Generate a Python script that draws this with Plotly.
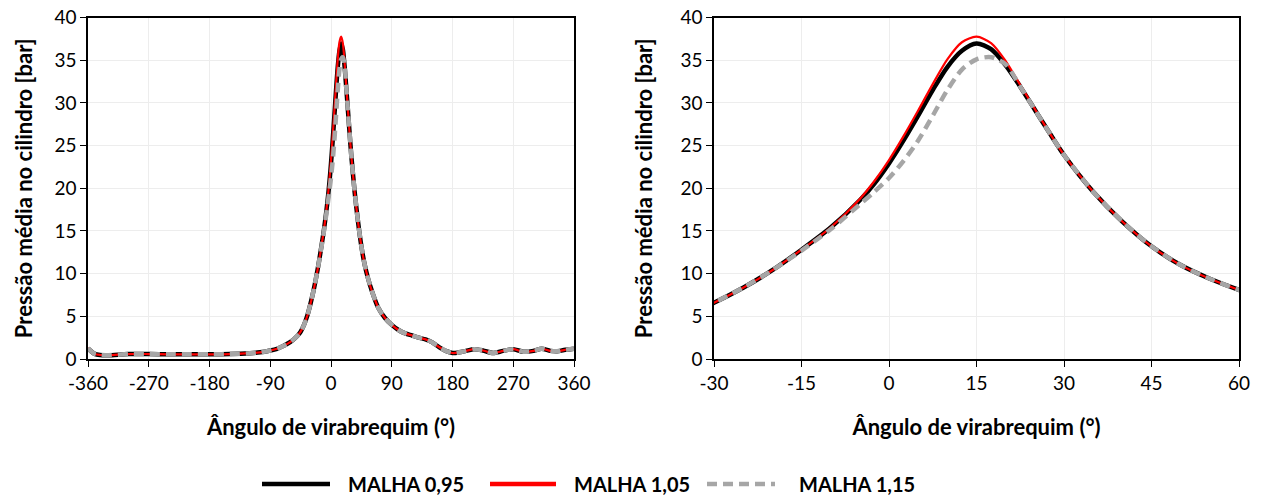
import plotly.graph_objects as go

# ---------------- data ----------------
angle = [-360, -350, -342, -330, -300, -270, -240, -210, -180, -150, -120, -105,
         -90, -80, -70, -60, -50, -45, -40, -35,
         -30, -25, -20, -15, -10, -5, -2.5, 0, 2.5, 5, 7.5, 10, 12.5, 15, 17.5,
         20, 22.5, 25, 27.5, 30, 35, 40, 45, 50, 55, 60,
         70, 80, 90, 100, 110, 120, 130, 140, 150, 160, 170,
         180, 190, 200, 212, 225, 240, 255, 270, 285, 300, 312, 325, 335, 345, 360]

malha_095 = [1.25, 0.6, 0.47, 0.45, 0.58, 0.58, 0.55, 0.55, 0.55, 0.58, 0.68, 0.78,
             1.0, 1.2, 1.55, 2.0, 2.7, 3.2, 4.0, 5.1,
             6.6, 8.35, 10.4, 12.8, 15.4, 18.6, 20.55, 22.9, 25.6, 28.5, 31.5, 34.2, 36.1, 36.95, 36.3,
             34.4, 31.9, 29.2, 26.5, 23.9, 19.6, 16.1, 13.2, 11.0, 9.4, 8.1,
             6.0, 4.8, 4.0, 3.4, 3.0, 2.75, 2.5, 2.3, 1.95, 1.4, 0.95,
             0.7, 0.78, 0.95, 1.15, 1.0, 0.7, 0.95, 1.15, 0.85, 0.95, 1.2, 0.95, 0.9, 1.05, 1.2]

malha_105 = [1.25, 0.6, 0.47, 0.45, 0.58, 0.58, 0.55, 0.55, 0.55, 0.58, 0.68, 0.78,
             1.0, 1.2, 1.55, 2.0, 2.7, 3.2, 4.0, 5.1,
             6.6, 8.35, 10.4, 12.8, 15.4, 18.75, 20.85, 23.3, 26.1, 29.1, 32.2, 35.1, 37.1, 37.75, 37.0,
             34.9, 32.1, 29.3, 26.5, 23.9, 19.6, 16.1, 13.2, 11.0, 9.4, 8.1,
             6.0, 4.8, 4.0, 3.4, 3.0, 2.75, 2.5, 2.3, 1.95, 1.4, 0.95,
             0.7, 0.78, 0.95, 1.15, 1.0, 0.7, 0.95, 1.15, 0.85, 0.95, 1.2, 0.95, 0.9, 1.05, 1.2]

malha_115 = [1.25, 0.6, 0.47, 0.45, 0.58, 0.58, 0.55, 0.55, 0.55, 0.58, 0.68, 0.78,
             1.0, 1.2, 1.55, 2.0, 2.7, 3.2, 4.0, 5.1,
             6.6, 8.35, 10.4, 12.7, 15.2, 18.1, 19.6, 21.2, 23.2, 25.6, 28.5, 31.5, 33.9, 35.1, 35.35,
             34.5, 31.9, 29.2, 26.5, 23.9, 19.6, 16.1, 13.2, 11.0, 9.4, 8.1,
             6.0, 4.8, 4.0, 3.4, 3.0, 2.75, 2.5, 2.3, 1.95, 1.4, 0.95,
             0.7, 0.78, 0.95, 1.15, 1.0, 0.7, 0.95, 1.15, 0.85, 0.95, 1.2, 0.95, 0.9, 1.05, 1.2]

series_names = ["MALHA 0,95", "MALHA 1,05", "MALHA 1,15"]
left_ticks = [-360, -270, -180, -90, 0, 90, 180, 270, 360]
left_ticktext = ["-360", "-270", "-180", "-90", "0", "90", "180", "270", "360"]
right_ticks = [-30, -15, 0, 15, 30, 45, 60]
right_ticktext = ["-30", "-15", "0", "15", "30", "45", "60"]
y_ticks = [0, 5, 10, 15, 20, 25, 30, 35, 40]

x_title = "Ângulo de virabrequim (°)"
y_title = "Pressão média no cilindro [bar]"

# ---------------- styles ----------------
FONT = "Lato"
W, H = 1270, 498
styles = [
    dict(color="#000000", width=4.5, dash="solid"),
    dict(color="#FF0000", width=2.2, dash="solid"),
    dict(color="#A6A6A6", width=4.5, dash="10px,6px"),
]
data = [malha_095, malha_105, malha_115]

fig = go.Figure()
for axes in [("x", "y"), ("x2", "y2")]:
    for name, vals, st in zip(series_names, data, styles):
        fig.add_trace(go.Scatter(
            x=angle, y=vals, name=name, mode="lines",
            line=dict(color=st["color"], width=st["width"], dash=st["dash"], shape="spline", smoothing=0.8),
            xaxis=axes[0], yaxis=axes[1], showlegend=False,
        ))

axis_common = dict(
    showline=True, linecolor="black", linewidth=1.5, mirror=True,
    showgrid=True, gridcolor="#EDEDED", gridwidth=1,
    ticks="outside", ticklen=6, tickcolor="black", tickwidth=1.2,
    tickfont=dict(family=FONT, size=19, color="#000000"),
    zeroline=False, automargin=False,
)
title_font = dict(family=FONT, size=22, color="black", weight="bold")
ydom = [(H - 359) / H, (H - 17.5) / H]

fig.update_layout(
    width=W, height=H,
    margin=dict(l=0, r=0, t=0, b=0),
    paper_bgcolor="white", plot_bgcolor="white",
    showlegend=False,
    xaxis=dict(domain=[88 / W, 574 / W], range=[-360, 360], tickvals=left_ticks, ticktext=left_ticktext,
               title=dict(text=x_title, font=title_font, standoff=27), anchor="y", **axis_common),
    yaxis=dict(domain=ydom, range=[0, 40], tickvals=y_ticks,
               title=dict(text=y_title, font=title_font, standoff=16), anchor="x", **axis_common),
    xaxis2=dict(domain=[714 / W, 1239 / W], range=[-30, 60], tickvals=right_ticks, ticktext=right_ticktext,
                title=dict(text=x_title, font=title_font, standoff=27), anchor="y2", **axis_common),
    yaxis2=dict(domain=ydom, range=[0, 40], tickvals=y_ticks,
                title=dict(text=y_title, font=title_font, standoff=22), anchor="x2", **axis_common),
)

# ---------------- manual legend ----------------
leg_y = (H - 484) / H
leg_items = [(262, 330, 346), (490, 556, 572), (707, 775, 797)]
for (x0, x1, xt), name, st in zip(leg_items, series_names, styles):
    fig.add_shape(type="line", xref="paper", yref="paper",
                  x0=x0 / W, x1=x1 / W, y0=leg_y, y1=leg_y,
                  line=dict(color=st["color"], width=4.5, dash=st["dash"]))
    fig.add_annotation(xref="paper", yref="paper", x=xt / W, y=leg_y,
                       text="<b>" + name + "</b>", showarrow=False,
                       xanchor="left", yanchor="middle",
                       font=dict(family=FONT, size=20, color="black"))

fig.write_html("out.html", config={"displayModeBar": False},
               post_script="document.body.style.margin='0px';")
